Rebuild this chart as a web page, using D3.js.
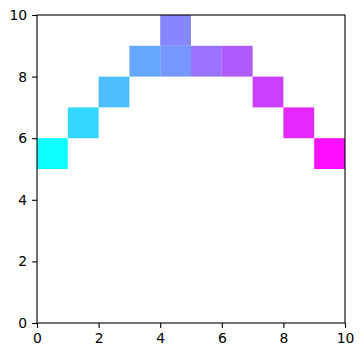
<!DOCTYPE html>
<html>
<head>
<meta charset="utf-8">
<script src="https://cdn.jsdelivr.net/npm/d3@7"></script>
<style>
  body { margin: 0; background: #fff; }
  svg { display: block; }
  .tick text { font-family: "DejaVu Sans", sans-serif; font-size: 13.9px; fill: #000; }
</style>
</head>
<body>
<svg id="chart" width="364" height="357"></svg>
<script>
// cell positions (lower-left corner) and colour value 0..1 on the "cool" map
const cellX = [0, 1, 2, 3, 4, 4, 5, 6, 7, 8, 9]
const cellY = [5, 6, 7, 8, 8, 9, 8, 8, 7, 6, 5]
const cellC = [0, 0.16, 0.27, 0.36, 0.43, 0.5, 0.58, 0.68, 0.79, 0.89, 1]
const xTicks = [0, 2, 4, 6, 8, 10]
const yTicks = [0, 2, 4, 6, 8, 10]

const margin = {top: 15, right: 19, bottom: 34, left: 37}
const svg = d3.select('#chart')
const w = 364 - margin.left - margin.right
const h = 357 - margin.top - margin.bottom

const x = d3.scaleLinear().domain([0, 10]).range([0, w])
const y = d3.scaleLinear().domain([0, 10]).range([h, 0])
const cool = d3.interpolateRgb('#00ffff', '#ff00ff')

const g = svg.append('g').attr('transform', `translate(${margin.left},${margin.top})`)

const cells = cellX.map((cx, i) => ({x: cx, y: cellY[i], c: cellC[i]}))

g.selectAll('rect.cell')
  .data(cells)
  .enter()
  .append('rect')
  .attr('class', 'cell')
  .attr('x', d => x(d.x))
  .attr('y', d => y(d.y + 1))
  .attr('width', d => x(d.x + 1) - x(d.x))
  .attr('height', d => y(d.y) - y(d.y + 1))
  .attr('fill', d => cool(d.c))
  .attr('fill-opacity', 0.95)

const xAxis = g.append('g')
  .attr('transform', `translate(0,${h})`)
  .call(d3.axisBottom(x).tickValues(xTicks).tickFormat(d3.format('d')).tickSize(4.9).tickPadding(4.9))
const yAxis = g.append('g')
  .call(d3.axisLeft(y).tickValues(yTicks).tickFormat(d3.format('d')).tickSize(4.9).tickPadding(4.9))

;[xAxis, yAxis].forEach(a => {
  a.select('.domain').remove()
  a.selectAll('.tick line').attr('stroke', '#000').attr('stroke-width', 1.1)
})

g.append('rect')
  .attr('width', w).attr('height', h)
  .attr('fill', 'none').attr('stroke', '#000').attr('stroke-width', 1.1)
</script>
</body>
</html>
